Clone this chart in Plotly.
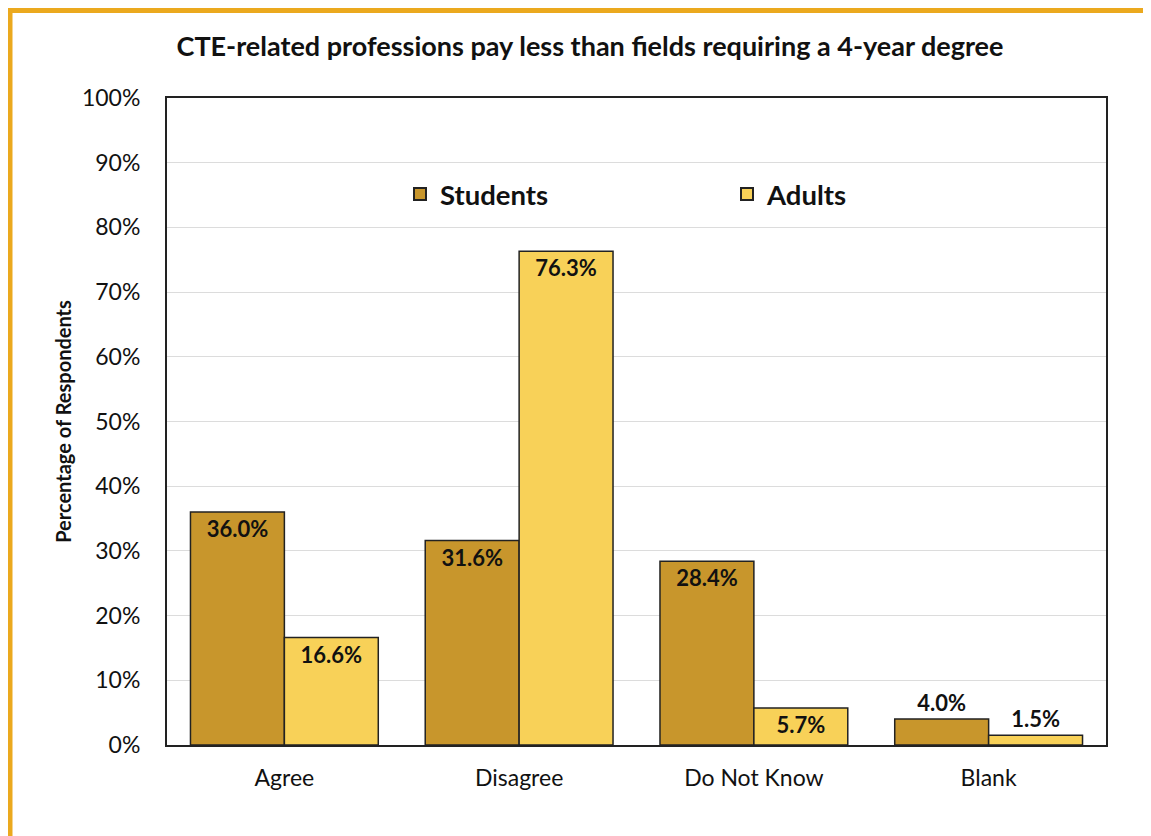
import plotly.graph_objects as go

categories = ["Agree", "Disagree", "Do Not Know", "Blank"]
students = [36.0, 31.6, 28.4, 4.0]
adults = [16.6, 76.3, 5.7, 1.5]
y_ticks = [0, 10, 20, 30, 40, 50, 60, 70, 80, 90, 100]
y_tick_labels = [f"{v}%" for v in y_ticks]

FONT = "Lato, 'Open Sans', sans-serif"
STUD_COL = "#C8962C"
ADULT_COL = "#F8D158"

OFF = 8  # page body margin
W, H = 1151 - OFF, 836 - OFF
# plot area in screen pixels
PL, PR, PT, PB = 167, 1106, 98, 745
ML, MR, MT, MB = PL - OFF, W + OFF - PR, PT - OFF, H + OFF - PB
PW, PH = PR - PL, PB - PT


def px_x(p):
    return (p - PL) / PW


def px_y(p):
    return (PB - p) / PH


def positions(vals, thresh):
    return ["inside" if v >= thresh else "outside" for v in vals]


LABEL_FONT = dict(family=FONT, size=22, color="#111111", weight="bold")

fig = go.Figure()
fig.add_trace(go.Bar(
    name="Students", x=categories, y=students,
    marker=dict(color=STUD_COL, line=dict(color="#222222", width=1.5)),
    text=[f"{v:.1f}%" for v in students],
    textposition=positions(students, 5),
    insidetextanchor="end",
    textfont=LABEL_FONT,
    cliponaxis=False,
))
fig.add_trace(go.Bar(
    name="Adults", x=categories, y=adults,
    marker=dict(color=ADULT_COL, line=dict(color="#222222", width=1.5)),
    text=[f"{v:.1f}%" for v in adults],
    textposition=positions(adults, 5),
    insidetextanchor="end",
    textfont=LABEL_FONT,
    cliponaxis=False,
))

fig.update_layout(
    width=W, height=H,
    margin=dict(l=ML, r=MR, t=MT, b=MB),
    paper_bgcolor="white", plot_bgcolor="white",
    barmode="group", bargap=0.2, bargroupgap=0,
    uniformtext=dict(mode="show", minsize=10),
    title=dict(
        text="CTE-related professions pay less than fields requiring a 4-year degree",
        x=px_x(590), xanchor="center", xref="paper",
        y=1 - (47 - OFF) / H, yanchor="middle",
        font=dict(family=FONT, size=27, color="#111111", weight="bold"),
    ),
    legend=dict(
        orientation="h", x=px_x(400), y=px_y(194), xanchor="left", yanchor="middle",
        font=dict(family=FONT, size=27.5, color="#111111", weight="bold"),
        entrywidth=282, entrywidthmode="pixels", bgcolor="rgba(0,0,0,0)",
        itemsizing="constant",
    ),
    font=dict(family=FONT, color="#111111"),
)
fig.update_xaxes(
    showline=True, linecolor="#222222", linewidth=2, mirror=True,
    ticks="", ticklabelstandoff=11,
    tickfont=dict(family=FONT, size=23, color="#111111"),
)
fig.update_yaxes(
    range=[0, 100], tickvals=y_ticks, ticktext=y_tick_labels,
    showgrid=True, gridcolor="#DCDCDC", gridwidth=1,
    showline=True, linecolor="#222222", linewidth=2, mirror=True,
    ticks="", ticklabelstandoff=20,
    tickfont=dict(family=FONT, size=23, color="#111111"),
    title=dict(text="Percentage of Respondents", standoff=5,
               font=dict(family=FONT, size=20, color="#111111", weight="bold")),
    zeroline=False,
)

ORANGE = "#EBA91E"
fig.add_shape(type="line", xref="paper", yref="paper",
              x0=px_x(10), x1=px_x(10), y0=px_y(OFF), y1=px_y(H + OFF),
              line=dict(color=ORANGE, width=5), layer="above")
fig.add_shape(type="line", xref="paper", yref="paper",
              x0=px_x(OFF), x1=px_x(W + OFF), y0=px_y(10.5), y1=px_y(10.5),
              line=dict(color=ORANGE, width=5), layer="above")

fig.write_html("out.html")
